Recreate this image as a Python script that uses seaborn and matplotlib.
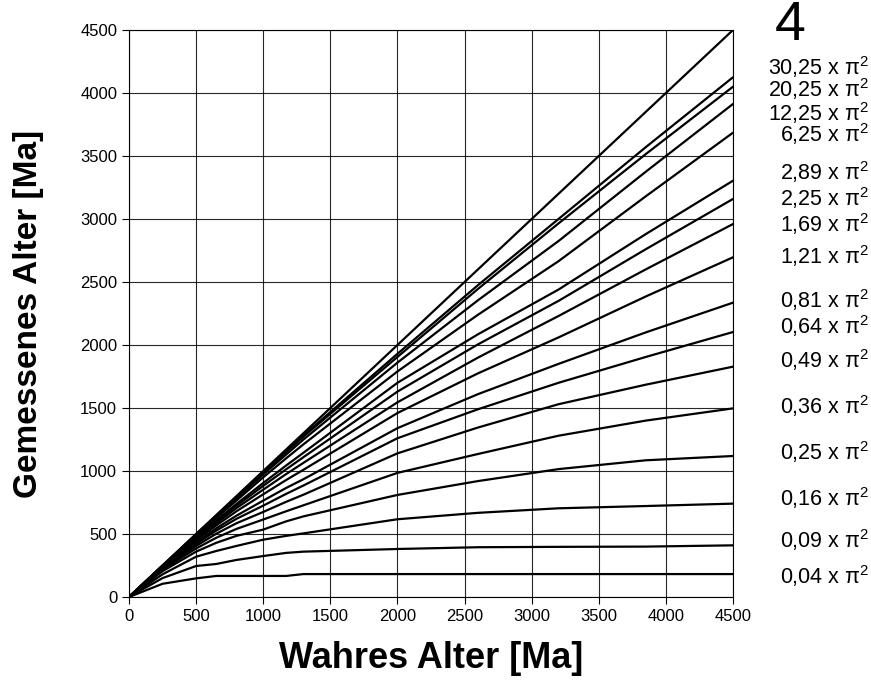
import numpy as np
import pandas as pd
import seaborn as sns
import matplotlib
matplotlib.use("Agg")
import matplotlib.pyplot as plt

# wahres Alter (Stützstellen)
wahres_alter = [0, 250, 500, 650, 800, 1000, 1170, 1300, 2000, 2600, 3200, 3850, 4500]

# gemessenes Alter je Kurve
kurve_1zu1 = [0, 250, 500, 650, 800, 1000, 1170, 1300, 2000, 2600, 3200, 3850, 4500]
kurve_30_25 = [0, 250, 498, 646, 795, 993, 1158, 1283, 1930, 2475, 3000, 3570, 4125]
kurve_20_25 = [0, 249, 496, 643, 790, 987, 1150, 1273, 1905, 2445, 2965, 3515, 4050]
kurve_12_25 = [0, 248, 492, 637, 781, 973, 1130, 1250, 1860, 2355, 2825, 3375, 3913]
kurve_6_25 = [0, 246, 485, 626, 765, 950, 1100, 1212, 1790, 2240, 2665, 3180, 3685]
kurve_2_89 = [0, 243, 473, 607, 738, 905, 1043, 1145, 1700, 2085, 2440, 2880, 3304]
kurve_2_25 = [0, 241, 467, 597, 724, 882, 1013, 1110, 1630, 2005, 2350, 2760, 3159]
kurve_1_69 = [0, 239, 459, 585, 705, 852, 975, 1065, 1545, 1900, 2230, 2600, 2960]
kurve_1_21 = [0, 236, 448, 568, 680, 815, 928, 1010, 1460, 1775, 2060, 2385, 2696]
kurve_0_81 = [0, 232, 433, 545, 645, 765, 865, 935, 1340, 1610, 1850, 2100, 2336]
kurve_0_64 = [0, 229, 421, 527, 620, 725, 818, 885, 1260, 1490, 1700, 1905, 2103]
kurve_0_49 = [0, 224, 405, 502, 585, 675, 755, 812, 1140, 1345, 1530, 1685, 1828]
kurve_0_36 = [0, 218, 385, 470, 540, 615, 680, 728, 985, 1135, 1280, 1400, 1497]
kurve_0_25 = [0, 205, 360, 430, 485, 535, 600, 640, 810, 920, 1015, 1085, 1119]
kurve_0_16 = [0, 180, 320, 365, 405, 455, 485, 505, 617, 668, 704, 722, 741]
kurve_0_09 = [0, 150, 246, 262, 294, 325, 350, 360, 381, 395, 398, 400, 410]
kurve_0_04 = [0, 105, 148, 167, 167, 167, 167, 182, 182, 182, 182, 182, 182]

kurven = {
    "1:1": kurve_1zu1,
    "30,25": kurve_30_25, "20,25": kurve_20_25, "12,25": kurve_12_25,
    "6,25": kurve_6_25, "2,89": kurve_2_89, "2,25": kurve_2_25,
    "1,69": kurve_1_69, "1,21": kurve_1_21, "0,81": kurve_0_81,
    "0,64": kurve_0_64, "0,49": kurve_0_49, "0,36": kurve_0_36,
    "0,25": kurve_0_25, "0,16": kurve_0_16, "0,09": kurve_0_09,
    "0,04": kurve_0_04,
}

# Beschriftung rechts (Pixel-y im Bild)
label_namen = ["30,25", "20,25", "12,25", "6,25", "2,89", "2,25", "1,69", "1,21",
               "0,81", "0,64", "0,49", "0,36", "0,25", "0,16", "0,09", "0,04"]
label_ypix = [67, 89, 113, 134, 172, 198, 224, 256, 300, 326, 360, 406, 452, 498, 540, 576]

rows = []
for name, werte in kurven.items():
    for x, y in zip(wahres_alter, werte):
        rows.append({"Wahres Alter": x, "Gemessenes Alter": y, "Kurve": name})
df = pd.DataFrame(rows)

sns.set_style("ticks")
plt.rcParams['font.family'] = ['Liberation Sans', 'DejaVu Sans']
plt.rcParams['mathtext.fontset'] = 'custom'
plt.rcParams['mathtext.rm'] = 'Liberation Sans'
plt.rcParams['mathtext.it'] = 'Liberation Sans'
plt.rcParams['mathtext.default'] = 'regular'
plt.rcParams['text.color'] = 'black'
plt.rcParams['axes.labelcolor'] = 'black'
plt.rcParams['xtick.color'] = 'black'
plt.rcParams['ytick.color'] = 'black'

W, H = 871, 699
fig = plt.figure(figsize=(W / 100, H / 100), dpi=100)
ax = fig.add_axes([129 / W, 1 - 597 / H, (733 - 129) / W, (597 - 30) / H])

sns.lineplot(data=df, x="Wahres Alter", y="Gemessenes Alter", hue="Kurve",
             palette=["black"] * len(kurven), legend=False, linewidth=1.6, ax=ax)

ax.set_xlim(0, 4500)
ax.set_ylim(0, 4500)
ax.set_xticks(np.arange(0, 4501, 500))
ax.set_yticks(np.arange(0, 4501, 500))
ax.grid(True, color="black", linewidth=0.8, alpha=0.85)
ax.tick_params(axis="both", labelsize=12, length=5, width=0.8, direction="out")
for s in ax.spines.values():
    s.set_color("black")
    s.set_linewidth(0.8)

ax.set_xlabel("Wahres Alter [Ma]", fontsize=26, fontweight="bold")
ax.set_ylabel("Gemessenes Alter [Ma]", fontsize=24, fontweight="bold")
ax.xaxis.set_label_coords(0.5, -0.078)
ax.yaxis.set_label_coords(-0.141, 0.5)

fig.text(790 / W, 1 - 26 / H, "4", fontsize=40, ha="center", va="center")
for name, yp in zip(label_namen, label_ypix):
    fig.text(869 / W, 1 - yp / H, name + r" x $\pi^2$", fontsize=15.5, ha="right", va="center")

plt.savefig("out.png", dpi=100)
